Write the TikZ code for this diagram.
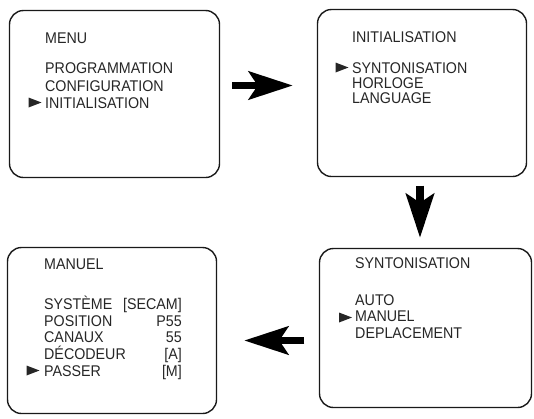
\documentclass[tikz,border=0pt]{standalone}
\usepackage{fontspec}
\setmainfont{Liberation Sans}[FakeStretch=0.92]
\usetikzlibrary{arrows.meta,calc}
% small menu cursor, centred at (x,y)
\def\pointer(#1,#2){\fill[black!85] ({#1-6.5},{#2-5}) -- ({#1+6.5},{#2}) -- ({#1-6.5},{#2+5}) -- cycle;}

\begin{document}
\begin{tikzpicture}[x=1pt, y=-1pt,
    screen/.style={draw=black!90, line width=1.4pt, rounded corners=14pt, inner sep=0pt},
    txt/.style={anchor=base west, inner sep=0pt, text=black!85, font=\fontsize{15.5}{18}\selectfont},
    val/.style={txt, anchor=base east},
    bigarrow/.style={line width=7.5pt, -{Stealth[length=44pt,width=28pt,inset=9pt]}}]
			%%%%% START %%%%%
			\useasboundingbox (0,0) rectangle (534,418);
			
			% the four screens
			\node[screen, minimum width=210pt, minimum height=167pt] (menu) at (114.5,94) {};
			\node[screen, minimum width=209pt, minimum height=167pt] (init) at (422,93) {};
			\node[screen, minimum width=212pt, minimum height=159pt] (synto) at (425.5,328) {};
			\node[screen, minimum width=209pt, minimum height=166pt] (manuel) at (112,330.5) {};
			
			% MENU
			\node[txt] (menutitle) at (45,43.3) {MENU};
			\node[txt] (menuprog) at (45,73.3) {PROGRAMMATION};
			\node[txt] (menuconf) at (45,91) {CONFIGURATION};
			\node[txt] (menuinit) at (45,108.3) {INITIALISATION};
			\pointer(35,102.5);
			
			% INITIALISATION
			\node[txt] (inittitle) at (352,42.7) {INITIALISATION};
			\node[txt] (initsynt) at (352,73.3) {SYNTONISATION};
			\node[txt] (inithorl) at (352,88.3) {HORLOGE};
			\node[txt] (initlang) at (352,103.3) {LANGUAGE};
			\pointer(342,67.5);
			
			% SYNTONISATION
			\node[txt] (syntitle) at (355,268.3) {SYNTONISATION};
			\node[txt] (synauto) at (355,305) {AUTO};
			\node[txt] (synman) at (355,321.7) {MANUEL};
			\node[txt] (syndepl) at (355,338.3) {DEPLACEMENT};
			\pointer(345.5,317.5);
			
			% MANUEL
			\node[txt] (mantitle) at (44,269.3) {MANUEL};
			\node[txt] (mansys) at (44,309.3) {SYSTÈME};
			\node[txt] (manpos) at (44,326) {POSITION};
			\node[txt] (mancan) at (44,342.7) {CANAUX};
			\node[txt] (mandec) at (44,359.3) {DÉCODEUR};
			\node[txt] (manpas) at (44,376) {PASSER};
			\node[val] (mansysv) at (182,309.3) {[SECAM]};
			\node[val] (manposv) at (182,326) {P55};
			\node[val] (mancanv) at (182,342.7) {55};
			\node[val] (mandecv) at (182,359.3) {[A]};
			\node[val] (manpasv) at (182,376) {[M]};
			\pointer(33,370.5);
			
			% arrows between the screens
			\coordinate (a1) at ([xshift=12pt,yshift=8.5pt]menu.east);
			\draw[bigarrow] (a1) -- ([xshift=-24pt]init.west |- a1);
			\coordinate (a2) at ([xshift=-2pt,yshift=-8.5pt]init.south);
			\draw[bigarrow] (a2) -- ([yshift=10pt]synto.north -| a2);
			\coordinate (a3) at ([xshift=-14.5pt,yshift=-12.5pt]synto.west);
			\draw[bigarrow] (a3) -- ([xshift=27pt]manuel.east |- a3);
			
			%%%%% END %%%%%
\end{tikzpicture}
\end{document}
